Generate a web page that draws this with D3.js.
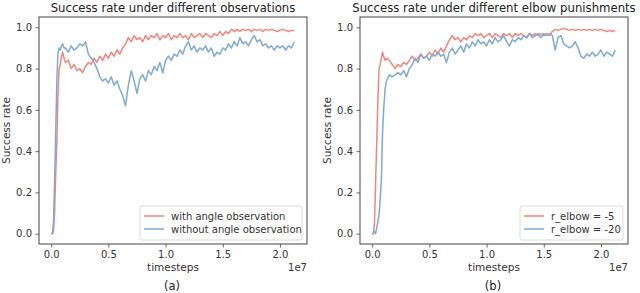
<!DOCTYPE html>
<html><head><meta charset="utf-8">
<script src="https://cdn.jsdelivr.net/npm/d3@7"></script>
<style>
html,body{margin:0;padding:0;background:#fff;}
svg{display:block;font-family:"DejaVu Sans",sans-serif;}
</style></head>
<body><svg id="c" width="640" height="293"></svg>
<script>
// timesteps in units of 1e7
const timesteps = [0,0.01,0.02,0.03,0.04,0.05,0.06,0.07,0.08,0.09,0.1,0.1125,
0.125,0.15,0.175,0.2,0.225,0.25,0.275,0.3,
0.325,0.35,0.375,0.4,0.425,0.45,0.475,0.5,
0.525,0.55,0.575,0.6,0.625,0.65,0.675,0.7,
0.725,0.75,0.775,0.8,0.825,0.85,0.875,0.9,
0.925,0.95,0.975,1.0,1.025,1.05,1.075,1.1,
1.125,1.15,1.175,1.2,1.225,1.25,1.275,1.3,
1.325,1.35,1.375,1.4,1.425,1.45,1.475,1.5,
1.525,1.55,1.575,1.6,1.625,1.65,1.675,1.7,
1.725,1.75,1.775,1.8,1.825,1.85,1.875,1.9,
1.925,1.95,1.975,2.0,2.025,2.05,2.075,2.1,
2.125];

const withAngle = [0,0,0.01,0.1,0.3,0.45,0.7,0.8,0.82,0.86,0.88,0.85,
0.83,0.84,0.80,0.82,0.79,0.80,0.78,0.81,
0.83,0.82,0.85,0.83,0.86,0.84,0.87,0.85,
0.88,0.86,0.89,0.87,0.90,0.92,0.95,0.93,
0.96,0.94,0.95,0.93,0.96,0.94,0.96,0.95,
0.97,0.94,0.96,0.95,0.97,0.94,0.96,0.95,
0.97,0.95,0.96,0.94,0.97,0.95,0.96,0.97,
0.95,0.97,0.96,0.95,0.97,0.96,0.98,0.96,
0.98,0.97,0.99,0.98,0.99,0.98,0.99,0.985,
0.99,0.98,0.99,0.985,0.99,0.98,0.99,0.985,
0.99,0.985,0.98,0.985,0.99,0.985,0.98,0.985,
0.985];

const withoutAngle = [0,0,0.05,0.25,0.5,0.75,0.88,0.9,0.89,0.91,0.92,0.9,
0.90,0.88,0.91,0.89,0.90,0.92,0.91,0.93,
0.87,0.85,0.83,0.80,0.76,0.74,0.75,0.73,
0.76,0.72,0.74,0.70,0.67,0.62,0.72,0.79,
0.74,0.68,0.75,0.77,0.74,0.79,0.77,0.81,
0.79,0.83,0.78,0.84,0.86,0.84,0.87,0.86,
0.89,0.87,0.91,0.93,0.89,0.91,0.88,0.90,
0.89,0.91,0.88,0.90,0.86,0.88,0.87,0.90,
0.89,0.92,0.90,0.93,0.91,0.95,0.92,0.93,
0.91,0.94,0.96,0.93,0.94,0.91,0.92,0.90,
0.91,0.89,0.91,0.90,0.91,0.89,0.91,0.90,
0.93];

const elbowMinus5 = [0,0,0.05,0.25,0.45,0.65,0.8,0.82,0.85,0.88,0.86,0.84,
0.85,0.84,0.82,0.80,0.82,0.81,0.83,0.82,
0.84,0.86,0.84,0.85,0.87,0.85,0.86,0.88,
0.86,0.89,0.87,0.90,0.88,0.91,0.94,0.96,
0.94,0.95,0.93,0.95,0.94,0.96,0.95,0.97,
0.96,0.97,0.95,0.96,0.97,0.95,0.97,0.96,
0.95,0.97,0.96,0.97,0.95,0.97,0.96,0.97,
0.96,0.95,0.97,0.96,0.97,0.96,0.97,0.96,
0.97,0.96,0.98,0.99,0.985,0.99,0.995,0.99,
0.985,0.99,0.985,0.99,0.985,0.99,0.985,0.99,
0.985,0.99,0.985,0.99,0.985,0.98,0.985,0.98,
0.985];

const elbowMinus20 = [0,0,0.01,0,0.03,0.06,0.09,0.17,0.26,0.48,0.6,0.7,
0.74,0.77,0.76,0.77,0.78,0.77,0.79,0.76,
0.80,0.82,0.85,0.83,0.87,0.85,0.86,0.84,
0.87,0.86,0.88,0.86,0.87,0.83,0.88,0.90,
0.87,0.89,0.91,0.88,0.92,0.90,0.93,0.91,
0.94,0.92,0.93,0.91,0.94,0.92,0.95,0.93,
0.94,0.96,0.93,0.91,0.94,0.93,0.95,0.94,
0.96,0.95,0.97,0.95,0.96,0.97,0.95,0.97,
0.96,0.97,0.96,0.89,0.95,0.96,0.92,0.91,
0.90,0.91,0.93,0.90,0.86,0.85,0.87,0.86,
0.88,0.86,0.87,0.89,0.86,0.88,0.87,0.86,
0.89];

const xTicks = [0.0, 0.5, 1.0, 1.5, 2.0];
const yTicks = [0.0, 0.2, 0.4, 0.6, 0.8, 1.0];
const titles = ["Success rate under different observations", "Success rate under different elbow punishments"];
const captions = ["(a)", "(b)"];
const legendA = ["with angle observation", "without angle observation"];
const legendB = ["r_elbow = -5", "r_elbow = -20"];
const colors = ["#f4857b", "#7eaad3"];

const panels = [
  {left:39, right:307, title:titles[0], caption:captions[0], names:legendA, series:[withAngle, withoutAngle], legendW:162},
  {left:360, right:628, title:titles[1], caption:captions[1], names:legendB, series:[elbowMinus5, elbowMinus20], legendW:103}
];

const svg = d3.select("#c");
const plotTop = 17, plotBottom = 244;
const xMin = 0, xMax = 2.13, yMin = 0, yMax = 1.0;
const xPad = (xMax - xMin) * 0.05, yPad = (yMax - yMin) * 0.05;

panels.forEach(p => {
  const x = d3.scaleLinear().domain([xMin - xPad, xMax + xPad]).range([p.left, p.right]);
  const y = d3.scaleLinear().domain([yMin - yPad, yMax + yPad]).range([plotBottom, plotTop]);
  const g = svg.append("g");

  const line = d3.line().x((d,i) => x(timesteps[i])).y(d => y(d));
  p.series.forEach((s, k) => {
    g.append("path").datum(s).attr("d", line).attr("fill", "none")
      .attr("stroke", colors[k]).attr("stroke-width", 1.5).attr("stroke-linejoin", "round");
  });

  const xa = g.append("g").attr("transform", `translate(0,${plotBottom})`)
    .call(d3.axisBottom(x).tickValues(xTicks).tickFormat(d3.format(".1f")).tickSizeInner(3.5).tickSizeOuter(0).tickPadding(3.5));
  const ya = g.append("g").attr("transform", `translate(${p.left},0)`)
    .call(d3.axisLeft(y).tickValues(yTicks).tickFormat(d3.format(".1f")).tickSizeInner(3.5).tickSizeOuter(0).tickPadding(3.5));
  [xa, ya].forEach(a => {
    a.select(".domain").remove();
    a.selectAll("line").attr("stroke", "#444").attr("stroke-width", 0.8);
    a.selectAll("text").attr("fill", "#333").style("font-size", "10px").style("font-family", "DejaVu Sans");
  });

  g.append("rect").attr("x", p.left).attr("y", plotTop).attr("width", p.right - p.left).attr("height", plotBottom - plotTop)
    .attr("fill", "none").attr("stroke", "#444").attr("stroke-width", 1);

  const cx = (p.left + p.right) / 2;
  g.append("text").attr("x", cx).attr("y", 12).attr("text-anchor", "middle")
    .style("font-size", "11.7px").attr("fill", "#222").text(p.title);
  g.append("text").attr("x", cx).attr("y", 271).attr("text-anchor", "middle")
    .style("font-size", "10.5px").attr("fill", "#333").text("timesteps");
  g.append("text").attr("x", p.right).attr("y", 271).attr("text-anchor", "end")
    .style("font-size", "10px").attr("fill", "#333").text("1e7");
  g.append("text").attr("transform", `translate(${p.left - 29},${(plotTop + plotBottom) / 2}) rotate(-90)`)
    .attr("text-anchor", "middle").style("font-size", "10.5px").attr("fill", "#333").text("Success rate");
  g.append("text").attr("x", cx - 1).attr("y", 290).attr("text-anchor", "middle")
    .style("font-size", "11.5px").attr("fill", "#222").text(p.caption);

  const lx = p.right - 5 - p.legendW, ly = 206;
  g.append("rect").attr("x", lx).attr("y", ly).attr("width", p.legendW).attr("height", 34).attr("rx", 2)
    .attr("fill", "#fff").attr("fill-opacity", 0.8).attr("stroke", "#d0d0d0").attr("stroke-width", 0.8);
  p.names.forEach((n, k) => {
    const yy = ly + 10 + k * 13;
    g.append("line").attr("x1", lx + 4).attr("x2", lx + 24).attr("y1", yy).attr("y2", yy)
      .attr("stroke", colors[k]).attr("stroke-width", 1.5);
    g.append("text").attr("x", lx + 31).attr("y", yy + 3.5).style("font-size", "10px").attr("fill", "#333").text(n);
  });
});
</script></body></html>
